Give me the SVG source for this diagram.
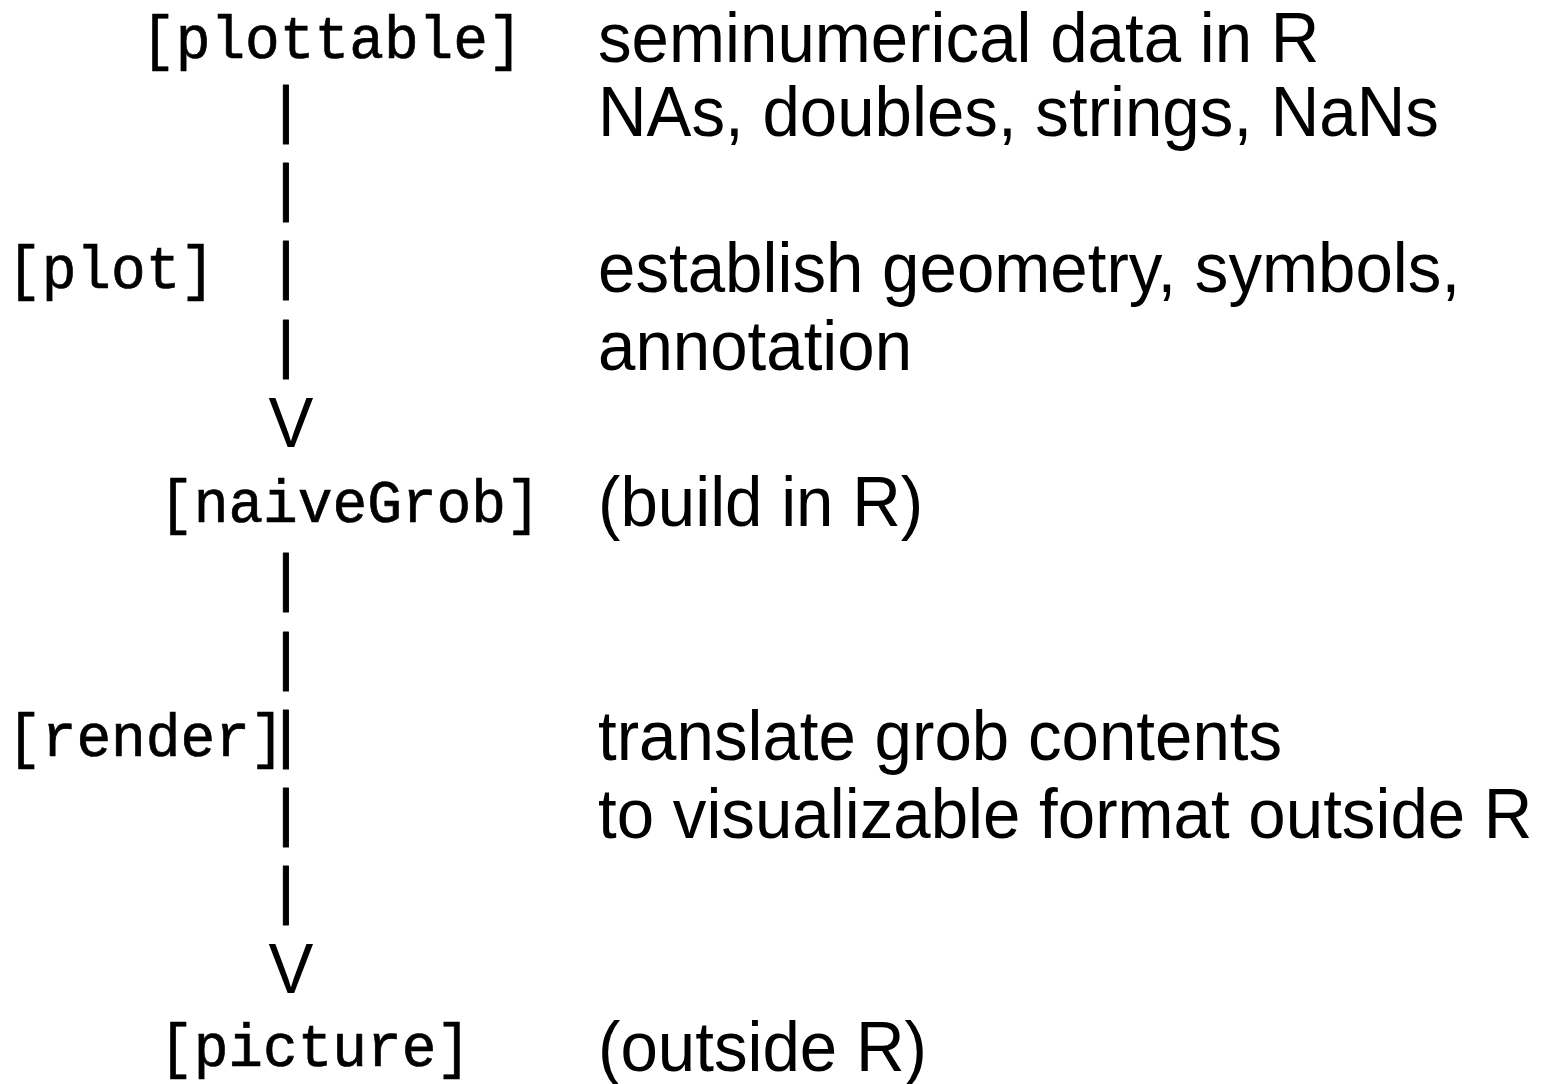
<svg xmlns="http://www.w3.org/2000/svg" width="1555" height="1084" viewBox="0 0 1555 1084">
<style>
.mono{font-family:"Liberation Mono","DejaVu Sans Mono",monospace;font-size:61px;fill:#000;stroke:#000;stroke-width:0.7;}
.sans{font-family:"Liberation Sans",Arial,sans-serif;font-size:70px;fill:#000;}
.bar{font-family:"Liberation Mono","DejaVu Sans Mono",monospace;font-size:63px;fill:#000;stroke:#000;stroke-width:1;stroke-linejoin:round;text-anchor:middle;}
.arr{font-family:"Liberation Sans",Arial,sans-serif;font-size:70px;fill:#000;text-anchor:middle;}
</style>
<rect width="1555" height="1084" fill="#fff"/>
<g id="connectors">
<text class="bar" x="286" y="131">|</text>
<text class="bar" x="286" y="209">|</text>
<text class="bar" x="286" y="287">|</text>
<text class="bar" x="286" y="365.5">|</text>
<text class="arr" x="291" y="447" transform="translate(291 0) scale(0.96 1) translate(-291 0)">V</text>
<text class="bar" x="286" y="599">|</text>
<text class="bar" x="286" y="677.5">|</text>
<text class="bar" x="286" y="755.5">|</text>
<text class="bar" x="286" y="833.5">|</text>
<text class="bar" x="286" y="911.5">|</text>
<text class="arr" x="291" y="993" transform="translate(291 0) scale(0.96 1) translate(-291 0)">V</text>
</g>
<g id="node-plottable">
<text class="mono" x="141" y="58" textLength="381.7" lengthAdjust="spacingAndGlyphs">[plottable]</text>
<text class="sans" transform="translate(598 62) scale(0.961 1)">seminumerical data in R</text>
<text class="sans" transform="translate(598 136) scale(0.961 1)">NAs, doubles, strings, NaNs</text>
</g>
<g id="node-plot">
<text class="mono" x="7" y="288" textLength="208" lengthAdjust="spacingAndGlyphs">[plot]</text>
<text class="sans" transform="translate(598 291.5) scale(0.961 1)">establish geometry, symbols,</text>
<text class="sans" transform="translate(598 369.5) scale(0.961 1)">annotation</text>
</g>
<g id="node-naiveGrob">
<text class="mono" x="159" y="522" textLength="381.7" lengthAdjust="spacingAndGlyphs">[naiveGrob]</text>
<text class="sans" transform="translate(598 526) scale(0.961 1)">(build in R)</text>
</g>
<g id="node-render">
<text class="mono" x="7" y="756" textLength="277.6" lengthAdjust="spacingAndGlyphs">[render]</text>
<text class="sans" transform="translate(598 760) scale(0.961 1)">translate grob contents</text>
<text class="sans" transform="translate(598 838) scale(0.961 1)">to visualizable format outside R</text>
</g>
<g id="node-picture">
<text class="mono" x="159" y="1066" textLength="312" lengthAdjust="spacingAndGlyphs">[picture]</text>
<text class="sans" transform="translate(598 1070.5) scale(0.961 1)">(outside R)</text>
</g>
</svg>
